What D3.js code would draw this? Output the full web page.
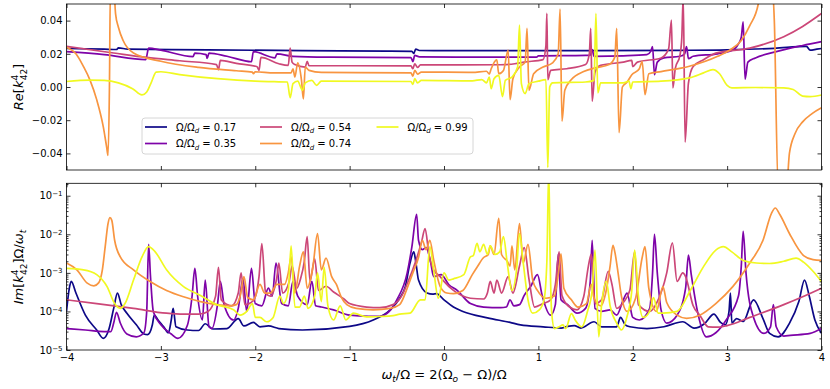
<!DOCTYPE html>
<html>
<head>
<meta charset="utf-8">
<script src="https://d3js.org/d3.v7.min.js"></script>
<style>
  body { margin: 0; background: #fff; }
  svg { font-family: "DejaVu Sans", sans-serif; }
</style>
</head>
<body>
<svg id="chart" width="830" height="389"></svg>
<script>
// ratios Omega/Omega_d and plasma colours
const ratios = ['0.17', '0.35', '0.54', '0.74', '0.99'];
const colors = ['#0d0887', '#7e03a8', '#cc4778', '#f89540', '#f0f921'];
const xTicks = [-4, -3, -2, -1, 0, 1, 2, 3, 4];
const reTicks = [-0.04, -0.02, 0, 0.02, 0.04];
const imTicks = [1e-5, 1e-4, 1e-3, 1e-2, 1e-1];

// Re[k] panel, [omega_t/Omega, value]
const re017 = [[-4.0,0.0232],[-3.6,0.0228],[-3.47,0.0226],[-3.45,0.0236],[-3.35,0.0228],[-2.5,0.0224],[-1.5,0.0219],[-0.6,0.0216],[-0.34,0.0215],[-0.32,0.0202],[-0.30,0.0228],[-0.26,0.0220],[0.5,0.0219],[1.5,0.0219],[2.5,0.0221],[3.0,0.0224],[3.5,0.0233],[3.84,0.0245],[3.88,0.0222],[3.95,0.0228],[4.0,0.0232]];
const re035 = [[-4.0,0.0213],[-3.6,0.0195],[-3.16,0.0165],[-3.13,0.0234],[-3.0,0.0222],[-2.66,0.0183],[-2.64,0.0204],[-2.52,0.0195],[-2.51,0.0172],[-2.49,0.0204],[-2.3,0.0185],[-2.04,0.0152],[-2.02,0.0213],[-1.79,0.0176],[-1.77,0.0200],[-1.6,0.0185],[-1.2,0.0180],[-0.35,0.0177],[-0.33,0.0153],[-0.31,0.0190],[-0.26,0.0182],[0.5,0.0180],[0.98,0.0180],[1.0,0.0187],[1.5,0.0190],[1.55,0.0192],[1.57,0.0225],[1.59,0.0185],[1.9,0.0188],[2.15,0.0195],[2.19,0.0215],[2.21,0.0243],[2.23,0.0074],[2.26,0.0150],[2.33,0.0175],[2.5,0.0185],[2.55,0.0200],[2.57,0.0243],[2.59,0.0171],[2.64,0.0185],[2.9,0.0200],[3.05,0.0220],[3.12,0.0260],[3.15,0.0300],[3.17,0.0393],[3.19,0.0048],[3.22,0.0150],[3.3,0.0175],[3.5,0.0210],[3.8,0.0250],[4.0,0.0273]];
const re054 = [[-4.0,0.0245],[-3.5,0.0205],[-3.15,0.0178],[-2.8,0.0158],[-2.41,0.0135],[-2.39,0.0104],[-2.37,0.0160],[-2.2,0.0142],[-1.98,0.0122],[-1.96,0.0100],[-1.94,0.0178],[-1.75,0.0140],[-1.65,0.0130],[-1.63,0.0234],[-1.61,0.0150],[-1.58,0.0135],[-1.47,0.0120],[-1.45,0.0155],[-1.43,0.0128],[-1.0,0.0128],[-0.35,0.0127],[-0.33,0.0110],[-0.31,0.0140],[-0.28,0.0118],[-0.25,0.0133],[0.6,0.0134],[0.75,0.0140],[0.85,0.0150],[1.05,0.0165],[1.08,0.0250],[1.09,0.0443],[1.10,0.0044],[1.13,0.0100],[1.3,0.0110],[1.5,0.0135],[1.54,0.0200],[1.555,0.0353],[1.57,-0.0086],[1.6,0.0090],[1.66,0.0130],[1.9,0.0150],[1.99,0.0160],[2.0,0.0123],[2.05,0.0150],[2.3,0.0175],[2.38,0.0230],[2.41,0.0403],[2.425,-0.0006],[2.45,0.0110],[2.5,0.0190],[2.52,0.0300],[2.535,0.0550],[2.555,-0.0332],[2.59,0.0024],[2.64,0.0123],[2.75,0.0164],[2.88,0.0204],[3.24,0.0234],[3.6,0.0303],[3.8,0.0365],[4.0,0.0443]];
const re074 = [[-4.0,0.0240],[-3.9,0.0200],[-3.82,0.0123],[-3.75,0.0040],[-3.68,-0.0076],[-3.61,-0.0240],[-3.575,-0.0360],[-3.56,-0.0412],[-3.545,0.0000],[-3.535,0.0600],[-3.50,0.0600],[-3.48,0.0440],[-3.45,0.0360],[-3.40,0.0280],[-3.29,0.0205],[-3.0,0.0155],[-2.6,0.0118],[-2.2,0.0098],[-2.03,0.0090],[-2.02,0.0080],[-2.0,0.0092],[-1.8,0.0085],[-1.62,0.0085],[-1.60,0.0110],[-1.58,0.0060],[-1.55,0.0145],[-1.51,0.0040],[-1.49,-0.0072],[-1.47,0.0120],[-1.43,0.0100],[-1.3,0.0088],[-0.35,0.0085],[-0.33,0.0065],[-0.31,0.0100],[-0.28,0.0078],[-0.24,0.0090],[0.3,0.0088],[0.45,0.0095],[0.48,0.0078],[0.50,0.0110],[0.56,0.0164],[0.58,0.0080],[0.63,0.0100],[0.68,0.0223],[0.70,-0.0076],[0.73,0.0050],[0.80,0.0120],[0.86,0.0150],[0.88,0.0353],[0.90,-0.0020],[0.95,0.0080],[1.05,0.0120],[1.15,0.0145],[1.21,0.0200],[1.23,0.0470],[1.25,-0.0206],[1.28,-0.0020],[1.35,0.0045],[1.48,0.0093],[1.6,0.0115],[1.75,0.0135],[1.81,0.0180],[1.83,0.0353],[1.855,-0.0275],[1.89,0.0000],[1.94,0.0030],[1.99,0.0074],[2.07,0.0110],[2.10,0.0153],[2.13,-0.0046],[2.17,0.0080],[2.3,0.0093],[2.6,0.0125],[2.9,0.0185],[3.03,0.0223],[3.15,0.0280],[3.24,0.0370],[3.33,0.0500],[3.36,0.0600],[3.48,0.0600],[3.50,0.0400],[3.54,-0.0600],[3.63,-0.0600],[3.66,-0.0400],[3.72,-0.0280],[3.8,-0.0210],[3.9,-0.0160],[4.0,-0.0125]];
const re099 = [[-4.0,0.0033],[-3.75,0.0042],[-3.6,0.0040],[-3.45,0.0025],[-3.3,-0.0010],[-3.2,-0.0048],[-3.15,-0.0030],[-3.1,0.0030],[-3.05,0.0090],[-3.0,0.0092],[-2.8,0.0075],[-2.4,0.0050],[-2.0,0.0035],[-1.8,0.0032],[-1.66,0.0030],[-1.63,-0.0065],[-1.60,0.0020],[-1.55,0.0035],[-1.50,-0.0020],[-1.47,0.0025],[-1.40,0.0040],[-1.35,0.0010],[-1.30,0.0035],[-0.35,0.0033],[-0.33,0.0015],[-0.31,0.0050],[-0.28,0.0025],[-0.24,0.0040],[0.3,0.0037],[0.40,0.0045],[0.45,0.0025],[0.48,0.0060],[0.50,-0.0010],[0.53,0.0050],[0.58,0.0070],[0.62,-0.0058],[0.65,0.0040],[0.72,0.0060],[0.78,0.0120],[0.80,0.0373],[0.82,0.0020],[0.86,-0.0040],[0.90,0.0020],[1.0,0.0035],[1.08,0.0045],[1.10,-0.0485],[1.12,0.0000],[1.15,0.0025],[1.5,0.0030],[1.59,0.0040],[1.61,0.0443],[1.63,-0.0035],[1.66,0.0025],[1.9,0.0025],[1.96,0.0035],[1.98,-0.0010],[2.0,0.0030],[2.3,0.0035],[2.6,0.0055],[2.75,0.0085],[2.85,0.0105],[2.92,0.0080],[3.0,0.0010],[3.05,-0.0005],[3.3,-0.0003],[3.6,-0.0005],[3.7,-0.0015],[3.8,-0.0055],[3.88,-0.0058],[4.0,-0.0048]];

// Im[k] Omega/omega_t panel (log)
const im017 = [[-4.0,1.0e-4],[-3.97,4e-4],[-3.95,6e-4],[-3.9,3e-4],[-3.8,8e-5],[-3.68,3.3e-5],[-3.61,2.0e-5],[-3.55,3.5e-5],[-3.5,1.2e-4],[-3.46,3.0e-4],[-3.42,1.5e-4],[-3.36,9e-5],[-3.26,4.5e-5],[-3.18,2.6e-5],[-3.14,2.5e-5],[-3.09,4.5e-5],[-3.07,8e-5],[-3.03,6e-5],[-2.97,4e-5],[-2.92,2.8e-5],[-2.89,6e-5],[-2.87,1.2e-4],[-2.84,4e-5],[-2.72,3.3e-5],[-2.6,3.2e-5],[-2.53,4.8e-5],[-2.45,3.5e-5],[-2.3,3.6e-5],[-2.18,6.5e-5],[-2.12,4.2e-5],[-2.02,5.2e-5],[-1.95,4e-5],[-1.86,4.2e-5],[-1.75,3.6e-5],[-1.5,3.3e-5],[-1.0,4.1e-5],[-0.75,6e-5],[-0.57,1.1e-4],[-0.47,2.2e-4],[-0.41,4.4e-4],[-0.36,1.8e-3],[-0.32,3.5e-3],[-0.30,2.0e-3],[-0.27,6.5e-4],[-0.18,3.0e-4],[-0.12,2.8e-4],[-0.08,2.9e-4],[0.0,2.0e-4],[0.1,1.3e-4],[0.2,1.0e-4],[0.46,6.8e-5],[0.7,5.2e-5],[0.81,4.5e-5],[1.05,4.0e-5],[1.24,3.7e-5],[1.31,4.1e-5],[1.38,4.3e-5],[1.45,3.7e-5],[1.59,5.4e-5],[1.67,4.0e-5],[1.83,4.0e-5],[1.87,7e-5],[1.92,4.5e-5],[1.97,4.0e-5],[2.15,3.6e-5],[2.33,4.0e-5],[2.53,5.4e-5],[2.65,3.7e-5],[2.76,4.8e-5],[2.86,8.5e-5],[2.93,5.2e-5],[2.98,4.5e-5],[3.02,1.0e-4],[3.035,3.0e-4],[3.05,5e-5],[3.1,6.5e-5],[3.17,5.5e-5],[3.28,2.0e-4],[3.38,6.5e-5],[3.45,2.7e-5],[3.54,2.2e-5],[3.66,4.9e-5],[3.76,1.8e-4],[3.82,6.5e-4],[3.87,2.5e-4],[3.93,6e-5],[4.0,2.7e-5]];
const im035 = [[-4.0,3.6e-5],[-3.8,3.3e-5],[-3.6,3.0e-5],[-3.53,3.0e-5],[-3.5,5e-5],[-3.47,9.5e-5],[-3.43,5e-5],[-3.36,2.6e-5],[-3.26,2.2e-5],[-3.18,2.8e-5],[-3.15,1.0e-4],[-3.13,5.5e-3],[-3.11,8e-4],[-3.08,1.0e-4],[-3.0,4.5e-5],[-2.89,2.6e-5],[-2.82,2.0e-5],[-2.72,4.3e-5],[-2.67,2.4e-4],[-2.64,1.3e-3],[-2.61,2.4e-4],[-2.56,6e-5],[-2.53,6.5e-4],[-2.49,4e-5],[-2.46,3.6e-5],[-2.4,1.5e-4],[-2.37,6e-4],[-2.33,1.5e-4],[-2.23,6e-5],[-2.18,1.2e-4],[-2.13,7e-4],[-2.09,1.0e-4],[-2.04,1.3e-3],[-2.0,1.6e-4],[-1.93,1.4e-4],[-1.86,4e-4],[-1.82,2.5e-4],[-1.78,1.8e-3],[-1.72,1.6e-4],[-1.65,1.4e-4],[-1.6,6e-4],[-1.55,2.5e-4],[-1.45,1.5e-4],[-1.40,6e-4],[-1.36,1.4e-4],[-1.3,1.3e-4],[-1.17,1.1e-4],[-1.0,8e-5],[-0.8,7.5e-5],[-0.68,7.5e-5],[-0.58,1.0e-4],[-0.5,2.0e-4],[-0.39,1.0e-3],[-0.34,4.8e-3],[-0.29,3.3e-2],[-0.27,7e-3],[-0.23,4e-3],[-0.19,4.5e-3],[-0.14,1.8e-3],[-0.11,8e-4],[-0.03,9e-4],[0.05,5e-4],[0.14,3.5e-4],[0.28,1.6e-4],[0.42,1.3e-4],[0.6,1.25e-4],[0.66,1.3e-4],[0.7,2.0e-4],[0.74,1.4e-4],[0.8,1.5e-4],[0.85,2.6e-4],[0.92,4.5e-4],[0.99,9e-4],[1.04,2.6e-4],[1.13,8e-5],[1.18,1.5e-4],[1.21,3e-3],[1.24,2e-4],[1.31,1.5e-4],[1.41,9e-5],[1.5,1.2e-4],[1.55,6e-4],[1.57,7e-3],[1.6,1.2e-4],[1.67,1e-4],[1.76,1.1e-4],[1.83,8e-5],[1.9,2e-4],[1.94,3e-4],[2.0,7e-5],[2.07,6e-5],[2.18,1.2e-4],[2.21,1e-3],[2.23,1.0e-2],[2.26,1e-3],[2.3,1.1e-4],[2.36,5e-5],[2.47,8e-5],[2.56,4e-4],[2.59,2.9e-3],[2.62,9e-4],[2.69,9e-5],[2.78,2.2e-5],[2.88,2.8e-5],[2.99,6e-5],[3.12,2.5e-4],[3.15,1.5e-3],[3.17,1.2e-2],[3.2,1e-3],[3.28,7e-5],[3.39,2.7e-5],[3.46,4e-5],[3.49,1.5e-4],[3.52,4e-5],[3.6,2.3e-5],[3.67,2.4e-5],[3.88,2.7e-5],[4.0,3.6e-5]];
const im054 = [[-4.0,2.0e-4],[-3.68,1.6e-4],[-3.29,1.2e-4],[-2.94,9e-5],[-2.76,8.5e-5],[-2.6,8.5e-5],[-2.5,1.0e-4],[-2.42,2.5e-4],[-2.39,1.4e-3],[-2.36,2e-4],[-2.25,1.4e-4],[-2.18,3e-4],[-2.15,1.0e-3],[-2.11,1.5e-4],[-2.02,1.9e-4],[-1.96,8e-4],[-1.93,5.7e-3],[-1.89,3e-4],[-1.84,2.5e-4],[-1.77,8e-4],[-1.75,1.8e-3],[-1.71,3e-4],[-1.64,6e-4],[-1.61,1.5e-3],[-1.56,4e-4],[-1.52,7e-4],[-1.48,2e-3],[-1.45,8.7e-3],[-1.42,6e-4],[-1.37,2.3e-3],[-1.33,3.5e-4],[-1.25,4.5e-4],[-1.17,3.2e-4],[-1.06,2.1e-4],[-1.0,1.6e-4],[-0.82,1.3e-4],[-0.68,1.25e-4],[-0.54,1.5e-4],[-0.45,2.5e-4],[-0.38,6e-4],[-0.3,2e-3],[-0.24,6e-3],[-0.2,1.4e-2],[-0.16,3e-3],[-0.11,1.2e-3],[-0.04,8e-4],[0.0,6e-4],[0.1,3.5e-4],[0.28,2.2e-4],[0.42,2.1e-4],[0.46,3e-4],[0.49,6e-4],[0.53,3e-4],[0.56,6.5e-4],[0.61,3e-4],[0.68,8e-4],[0.73,3e-4],[0.8,1.5e-3],[0.85,4.5e-3],[0.9,7e-4],[0.96,1.3e-4],[1.05,1.6e-4],[1.13,2.0e-4],[1.18,5e-4],[1.22,3.5e-3],[1.25,2.6e-4],[1.33,1.3e-4],[1.41,1.1e-4],[1.48,2.4e-4],[1.53,1.5e-3],[1.56,3.0e-3],[1.6,1.6e-4],[1.67,2e-4],[1.74,1.1e-3],[1.78,5e-4],[1.83,1.2e-4],[1.9,1.7e-4],[1.97,3.6e-4],[2.02,3.5e-3],[2.06,1.5e-4],[2.18,1.0e-4],[2.25,1.6e-4],[2.36,1.0e-3],[2.42,6e-3],[2.47,6e-4],[2.53,1.0e-3],[2.56,8e-4],[2.64,1.4e-4],[2.71,8e-5],[2.8,4e-5],[2.9,3.9e-5],[3.0,4.3e-5],[3.24,7e-5],[3.6,1.5e-4],[3.8,2.4e-4],[4.0,4.0e-4]];
const im074 = [[-4.0,1.8e-3],[-3.89,1.2e-3],[-3.78,5.4e-4],[-3.71,4.6e-4],[-3.66,5.5e-4],[-3.62,1.2e-3],[-3.59,4.8e-3],[-3.56,1.9e-2],[-3.54,2.7e-2],[-3.52,2.3e-2],[-3.49,7e-3],[-3.43,2.6e-3],[-3.29,1.2e-3],[-3.11,5.9e-4],[-2.94,3.5e-4],[-2.76,2.4e-4],[-2.58,1.8e-4],[-2.41,1.5e-4],[-2.27,1.4e-4],[-2.2,1.5e-4],[-2.16,2.5e-4],[-2.12,8e-4],[-2.08,2.3e-4],[-2.02,2e-4],[-1.95,5e-4],[-1.9,3e-4],[-1.84,3e-4],[-1.77,5e-4],[-1.69,5e-4],[-1.65,1e-3],[-1.62,2.6e-3],[-1.58,3e-4],[-1.53,1.5e-3],[-1.49,3.5e-3],[-1.45,4e-4],[-1.39,1.4e-3],[-1.34,1.05e-2],[-1.3,1.2e-3],[-1.25,2.4e-3],[-1.19,8e-4],[-1.14,5e-4],[-1.09,2.4e-4],[-1.03,1.5e-4],[-0.93,1.2e-4],[-0.75,1.1e-4],[-0.57,1.2e-4],[-0.47,1.5e-4],[-0.39,4e-4],[-0.33,1.0e-3],[-0.27,2.5e-3],[-0.23,7e-3],[-0.19,4e-3],[-0.15,7e-3],[-0.11,2.2e-3],[-0.04,4.4e-4],[0.03,3.0e-4],[0.1,2.9e-4],[0.2,3.5e-4],[0.3,9e-4],[0.35,1.4e-3],[0.42,2.5e-3],[0.47,3.0e-3],[0.49,5e-3],[0.53,3e-3],[0.58,2.6e-2],[0.61,3e-3],[0.67,2e-3],[0.7,1.5e-3],[0.72,5e-3],[0.75,1.2e-3],[0.8,1.9e-2],[0.84,1.8e-3],[0.89,5.5e-3],[0.94,6.5e-4],[0.99,3.5e-4],[1.08,2.2e-4],[1.17,2.5e-4],[1.21,9e-4],[1.24,3.1e-3],[1.27,4e-4],[1.35,2e-4],[1.42,1.3e-4],[1.51,1.6e-4],[1.56,5e-4],[1.59,2.2e-4],[1.66,1.4e-4],[1.72,3.6e-4],[1.76,1.5e-3],[1.79,5.2e-3],[1.81,3.5e-3],[1.84,1.2e-3],[1.88,2.5e-4],[1.94,1.0e-4],[2.03,2.2e-4],[2.1,2.5e-3],[2.13,4.8e-3],[2.17,4e-4],[2.25,1.0e-4],[2.32,4.4e-4],[2.36,1.7e-4],[2.47,8e-5],[2.57,6.6e-5],[2.71,8e-5],[2.88,1.6e-4],[3.06,4.4e-4],[3.24,1.8e-3],[3.38,7e-3],[3.47,3.5e-2],[3.51,4.8e-2],[3.56,3.2e-2],[3.66,1.05e-2],[3.81,2.8e-3],[3.91,2.2e-3],[4.0,2.1e-3]];
const im099 = [[-4.0,1.3e-3],[-3.82,1.2e-3],[-3.68,9e-4],[-3.57,4.4e-4],[-3.49,1.6e-4],[-3.43,1.2e-4],[-3.38,1.6e-4],[-3.29,6.5e-4],[-3.2,2.6e-3],[-3.13,4.8e-3],[-3.06,3.5e-3],[-2.94,1.2e-3],[-2.76,4.4e-4],[-2.58,2.6e-4],[-2.41,1.5e-4],[-2.23,1.1e-4],[-2.16,8e-5],[-2.09,1.0e-4],[-2.03,1.6e-4],[-2.0,7e-5],[-1.95,7e-5],[-1.88,5.4e-5],[-1.81,7e-5],[-1.74,2.5e-4],[-1.7,1.6e-4],[-1.65,3.5e-4],[-1.62,5e-3],[-1.58,1.3e-4],[-1.53,1.3e-4],[-1.48,2.5e-4],[-1.44,1.2e-4],[-1.37,2.5e-4],[-1.34,1.0e-3],[-1.3,1.8e-4],[-1.27,1.4e-3],[-1.23,1.4e-4],[-1.17,6e-5],[-1.1,1.4e-4],[-1.04,6e-5],[-0.96,9e-5],[-0.82,7.2e-5],[-0.68,7.4e-5],[-0.54,7.8e-5],[-0.47,8.5e-5],[-0.36,9e-5],[-0.25,2.0e-4],[-0.2,2e-4],[-0.15,4.8e-3],[-0.11,1.2e-3],[-0.06,2.2e-4],[0.0,1.0e-3],[0.05,6.5e-4],[0.1,7e-4],[0.21,9e-4],[0.28,2.6e-3],[0.31,2.8e-3],[0.35,5.8e-3],[0.38,3.5e-3],[0.42,5.5e-3],[0.46,3e-3],[0.49,5e-3],[0.54,3e-3],[0.59,3.5e-3],[0.63,8.7e-3],[0.67,1.8e-3],[0.72,3.5e-4],[0.77,1.3e-3],[0.8,1.05e-2],[0.84,1.8e-3],[0.89,2.0e-4],[0.94,9e-5],[1.01,1.1e-4],[1.06,2e-4],[1.09,2e-3],[1.11,0.5],[1.125,2e-3],[1.14,1.0e-4],[1.17,3.6e-5],[1.22,4e-5],[1.26,4.5e-5],[1.29,3.6e-5],[1.35,8.8e-5],[1.39,6e-5],[1.46,4e-5],[1.52,1.0e-4],[1.57,3.5e-4],[1.6,3.9e-3],[1.64,2.2e-5],[1.67,1.5e-4],[1.72,6e-4],[1.76,1.4e-4],[1.83,5e-5],[1.88,3.3e-5],[1.94,7.5e-5],[1.99,3.5e-4],[2.02,3.9e-3],[2.06,2.5e-4],[2.11,7e-5],[2.18,1.0e-4],[2.22,2.3e-4],[2.27,9e-5],[2.32,9e-5],[2.47,1.0e-4],[2.61,3.5e-4],[2.75,1.45e-3],[2.88,3.9e-3],[2.96,4.8e-3],[3.05,3.5e-3],[3.17,2.1e-3],[3.31,1.8e-3],[3.45,1.75e-3],[3.6,2.0e-3],[3.73,2.4e-3],[3.81,1.9e-3],[3.91,1.1e-3],[4.0,5.9e-4]];

const reSeries = [re017, re035, re054, re074, re099];
const imSeries = [im017, im035, im054, im074, im099];

const svg = d3.select('#chart');
const x = d3.scaleLinear().domain([-4, 4]).range([66.5, 821.5]);
const yRe = d3.scaleLinear().domain([-0.05, 0.05]).range([170, 4]);
const yIm = d3.scaleLog().domain([1e-5, 0.21]).range([350, 183.3]);

const defs = svg.append('defs');
defs.append('clipPath').attr('id', 'clipRe').append('rect')
  .attr('x', 66.5).attr('y', 4).attr('width', 755).attr('height', 166);
defs.append('clipPath').attr('id', 'clipIm').append('rect')
  .attr('x', 66.5).attr('y', 183.3).attr('width', 755).attr('height', 166.7);

function drawPanel(series, y, clip) {
  const line = d3.line().curve(d3.curveMonotoneX).x(d => x(d[0])).y(d => y(d[1]));
  svg.append('g').attr('clip-path', 'url(#' + clip + ')')
    .selectAll('path')
    .data(series)
    .enter()
    .append('path')
      .attr('d', line)
      .attr('fill', 'none')
      .attr('stroke', (d, i) => colors[i])
      .attr('stroke-width', 1.7)
      .attr('stroke-linejoin', 'round');
}
drawPanel(reSeries, yRe, 'clipRe');
drawPanel(imSeries, yIm, 'clipIm');

// axes, ticks pointing inwards on all four sides
function styleAxis(g) {
  g.select('.domain').remove();
  g.selectAll('.tick line').attr('stroke', '#000').attr('stroke-width', 0.8);
  g.selectAll('text').attr('font-size', 10).attr('fill', '#000').attr('font-family', '"DejaVu Sans", sans-serif');
}

// top panel
svg.append('g').attr('transform', 'translate(0,170)')
  .call(d3.axisBottom(x).tickValues(xTicks).tickSize(-4).tickFormat(''))
  .call(styleAxis);
svg.append('g').attr('transform', 'translate(0,4)')
  .call(d3.axisTop(x).tickValues(xTicks).tickSize(-4).tickFormat(''))
  .call(styleAxis);
svg.append('g').attr('transform', 'translate(66.5,0)')
  .call(d3.axisLeft(yRe).tickValues(reTicks).tickSize(-4).tickPadding(4).tickFormat(d3.format('.2f')))
  .call(styleAxis);
svg.append('g').attr('transform', 'translate(821.5,0)')
  .call(d3.axisRight(yRe).tickValues(reTicks).tickSize(-4).tickFormat(''))
  .call(styleAxis);

// bottom panel
svg.append('g').attr('transform', 'translate(0,350)')
  .call(d3.axisBottom(x).tickValues(xTicks).tickSize(-4).tickPadding(4).tickFormat(d3.format('d')))
  .call(styleAxis);
svg.append('g').attr('transform', 'translate(0,183.3)')
  .call(d3.axisTop(x).tickValues(xTicks).tickSize(-4).tickFormat(''))
  .call(styleAxis);

const minorIm = [];
[-5, -4, -3, -2, -1].forEach(e => {
  for (let k = 2; k <= 9; k++) {
    const v = k * Math.pow(10, e);
    if (v <= 0.21) minorIm.push(v);
  }
});
const yLeft = svg.append('g').attr('transform', 'translate(66.5,0)')
  .call(d3.axisLeft(yIm).tickValues(imTicks).tickSize(-4).tickPadding(4).tickFormat(''))
  .call(styleAxis);
yLeft.selectAll('.tick text').each(function(d) {
  const t = d3.select(this);
  t.append('tspan').text('10');
  t.append('tspan').attr('dy', '-0.45em').attr('font-size', 7)
    .text('\u2212' + Math.round(-Math.log10(d)));
});
svg.append('g').attr('transform', 'translate(66.5,0)')
  .call(d3.axisLeft(yIm).tickValues(minorIm).tickSize(-2).tickFormat(''))
  .call(styleAxis);
svg.append('g').attr('transform', 'translate(821.5,0)')
  .call(d3.axisRight(yIm).tickValues(imTicks).tickSize(-4).tickFormat(''))
  .call(styleAxis);
svg.append('g').attr('transform', 'translate(821.5,0)')
  .call(d3.axisRight(yIm).tickValues(minorIm).tickSize(-2).tickFormat(''))
  .call(styleAxis);

// frames
svg.append('rect').attr('x', 66.5).attr('y', 4).attr('width', 755).attr('height', 166)
  .attr('fill', 'none').attr('stroke', '#000').attr('stroke-width', 0.8);
svg.append('rect').attr('x', 66.5).attr('y', 183.3).attr('width', 755).attr('height', 166.7)
  .attr('fill', 'none').attr('stroke', '#000').attr('stroke-width', 0.8);

// legend
const legend = svg.append('g');
legend.append('rect')
  .attr('x', 142).attr('y', 118).attr('width', 331).attr('height', 36).attr('rx', 3)
  .attr('fill', '#fff').attr('fill-opacity', 0.8).attr('stroke', '#cccccc').attr('stroke-width', 0.8);
const legendPos = [[145, 127], [145, 143.5], [260, 127], [260, 143.5], [376.5, 127]];
ratios.forEach((r, i) => {
  const p = legendPos[i];
  legend.append('line')
    .attr('x1', p[0]).attr('x2', p[0] + 22).attr('y1', p[1]).attr('y2', p[1])
    .attr('stroke', colors[i]).attr('stroke-width', 1.7);
  const t = legend.append('text')
    .attr('x', p[0] + 31).attr('y', p[1] + 3.6).attr('font-size', 10);
  t.append('tspan').text('\u03a9/\u03a9');
  t.append('tspan').attr('font-size', 7).attr('font-style', 'italic').attr('dy', 2.5).text('d');
  t.append('tspan').attr('dy', -2.5).text(' = ' + r);
});

// axis labels
const lab1 = svg.append('text')
  .attr('transform', 'translate(23,87) rotate(-90)')
  .attr('text-anchor', 'middle').attr('font-size', 13);
lab1.append('tspan').attr('font-style', 'italic').text('Re');
lab1.append('tspan').text('[');
lab1.append('tspan').attr('font-style', 'italic').text('k');
lab1.append('tspan').attr('font-size', 9).attr('dy', -5).text('4');
lab1.append('tspan').attr('font-size', 9).attr('dx', -5.5).attr('dy', 9).text('42');
lab1.append('tspan').attr('dy', -4).text(']');

const lab2 = svg.append('text')
  .attr('transform', 'translate(23,267) rotate(-90)')
  .attr('text-anchor', 'middle').attr('font-size', 13);
lab2.append('tspan').attr('font-style', 'italic').text('Im');
lab2.append('tspan').text('[');
lab2.append('tspan').attr('font-style', 'italic').text('k');
lab2.append('tspan').attr('font-size', 9).attr('dy', -5).text('4');
lab2.append('tspan').attr('font-size', 9).attr('dx', -5.5).attr('dy', 9).text('42');
lab2.append('tspan').attr('dy', -4).text(']\u03a9/');
lab2.append('tspan').attr('font-style', 'italic').text('\u03c9');
lab2.append('tspan').attr('font-size', 9).attr('font-style', 'italic').attr('dy', 3).text('t');

const lab3 = svg.append('text')
  .attr('x', 444).attr('y', 379)
  .attr('text-anchor', 'middle').attr('font-size', 13);
lab3.append('tspan').attr('font-style', 'italic').text('\u03c9');
lab3.append('tspan').attr('font-size', 9).attr('font-style', 'italic').attr('dy', 3).text('t');
lab3.append('tspan').attr('dy', -3).text('/\u03a9 = 2(\u03a9');
lab3.append('tspan').attr('font-size', 9).attr('font-style', 'italic').attr('dy', 3).text('o');
lab3.append('tspan').attr('dy', -3).text(' \u2212 \u03a9)/\u03a9');
</script>
</body>
</html>
